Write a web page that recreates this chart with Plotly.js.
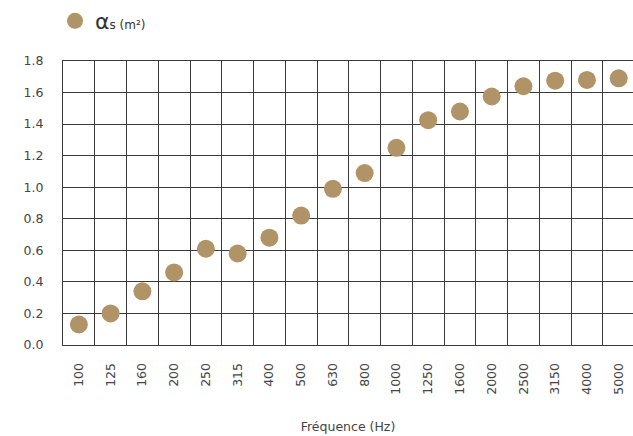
<!DOCTYPE html>
<html>
<head>
<meta charset="utf-8">
<script src="https://cdn.plot.ly/plotly-3.0.1.min.js"></script>
<style>html,body{margin:0;padding:0;background:#fff;}#chart{width:633px;height:436px;}</style>
</head>
<body>
<div id="chart"></div>
<script>
const frequencies = ["100","125","160","200","250","315","400","500","630","800","1000","1250","1600","2000","2500","3150","4000","5000"];
const alphaS = [0.13,0.20,0.34,0.46,0.61,0.58,0.68,0.82,0.99,1.09,1.25,1.425,1.48,1.575,1.64,1.675,1.68,1.69];
const seriesName = 'α<span style="font-size:12px">s (m²)</span>';
const xTitle = "Fréquence (Hz)";

const trace = {
  type: 'scatter',
  mode: 'markers',
  x: frequencies,
  y: alphaS,
  name: seriesName,
  showlegend: true,
  marker: {color: '#B09467', size: 18, line: {width: 0}}
};

const layout = {
  width: 633, height: 436,
  margin: {l: 63, r: 0, t: 59, b: 91},
  paper_bgcolor: '#fff', plot_bgcolor: '#fff',
  font: {family: 'DejaVu Sans, sans-serif', color: '#333', size: 12},
  showlegend: true,
  legend: {x: -0.014, y: 1.215, xanchor: 'left', yanchor: 'top', orientation: 'h',
           font: {size: 22, color: '#333'}, itemsizing: 'trace'},
  xaxis: {
    type: 'category',
    range: [-0.5, 17.45],
    tickson: 'boundaries',
    showgrid: true, gridcolor: '#3a3a3a', gridwidth: 1,
    showline: true, linecolor: '#3a3a3a', linewidth: 1, mirror: true,
    ticks: '', tickangle: -90,
    ticklabelstandoff: 12,
    tickfont: {size: 12.5, color: '#444'},
    title: {text: xTitle, font: {size: 12.5, color: '#444'}, standoff: 28},
    zeroline: false, fixedrange: true
  },
  yaxis: {
    range: [0, 1.8], dtick: 0.2, tick0: 0, tickformat: '.1f',
    showgrid: true, gridcolor: '#3a3a3a', gridwidth: 1,
    showline: true, linecolor: '#3a3a3a', linewidth: 1, mirror: true,
    ticks: '', ticklabelstandoff: 16,
    tickfont: {size: 12.5, color: '#444'},
    zeroline: false, fixedrange: true
  }
};

Plotly.newPlot('chart', [trace], layout, {displayModeBar: false, staticPlot: true});
</script>
</body>
</html>
